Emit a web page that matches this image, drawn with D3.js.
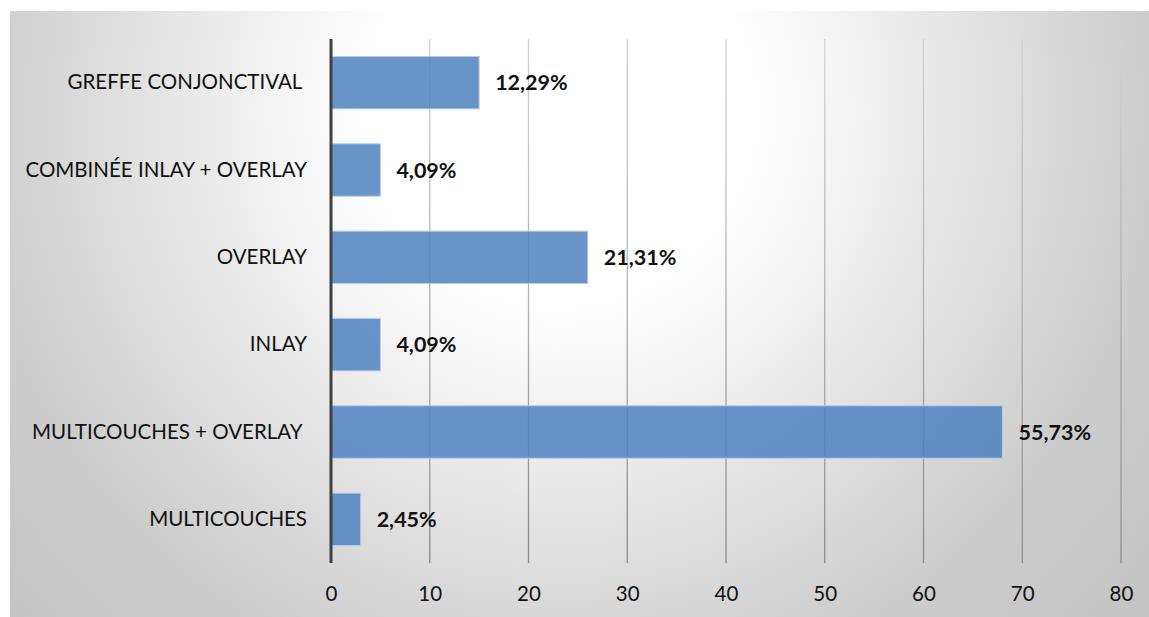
<!DOCTYPE html>
<html>
<head>
<meta charset="utf-8">
<script src="https://cdn.jsdelivr.net/npm/d3@7"></script>
<style>
  html, body { margin: 0; padding: 0; background: #ffffff; }
  svg { display: block; }
  text { font-family: Lato, "Open Sans", "Liberation Sans", sans-serif; }
</style>
</head>
<body>
<svg id="chart" width="1149" height="617"></svg>
<script>
// Techniques de greffe (effectifs), top to bottom
const categories = [
  "GREFFE CONJONCTIVAL ",
  "COMBINÉE INLAY + OVERLAY",
  "OVERLAY",
  "INLAY",
  "MULTICOUCHES + OVERLAY ",
  "MULTICOUCHES"
];
const counts = [15, 5, 26, 5, 68, 3];
const xTicks = [0, 10, 20, 30, 40, 50, 60, 70, 80];

const total = d3.sum(counts);
// Share of the total, truncated to two decimals, French decimal comma
const pctLabel = v => (Math.floor(v / total * 10000) / 100).toFixed(2).replace(".", ",") + "%";

const W = 1149, H = 617;
const svg = d3.select("#chart");
const defs = svg.append("defs");

// Soft grey radial shading of the chart area
const bg = defs.append("radialGradient")
  .attr("id", "bgGrad")
  .attr("gradientUnits", "userSpaceOnUse")
  .attr("cx", 560).attr("cy", 110).attr("r", 780);
bg.append("stop").attr("offset", 0.25).attr("stop-color", "#ffffff");
bg.append("stop").attr("offset", 0.75).attr("stop-color", "#cdcdcd");
bg.append("stop").attr("offset", 1).attr("stop-color", "#c3c3c3");

const plot = { top: 39, bottom: 563, left: 331, right: 1121 };

const gridGrad = defs.append("linearGradient")
  .attr("id", "gridGrad")
  .attr("gradientUnits", "userSpaceOnUse")
  .attr("x1", 0).attr("x2", 0).attr("y1", plot.top).attr("y2", plot.bottom);
gridGrad.append("stop").attr("offset", 0).attr("stop-color", "#d2d2d2");
gridGrad.append("stop").attr("offset", 1).attr("stop-color", "#8c8c8c");

svg.append("rect")
  .attr("x", 10).attr("y", 11)
  .attr("width", W - 10).attr("height", H - 11)
  .attr("fill", "url(#bgGrad)");

const x = d3.scaleLinear().domain([0, 80]).range([plot.left, plot.right]);
const y = d3.scaleBand().domain(categories)
  .range([plot.top, plot.bottom])
  .paddingInner(0.4).paddingOuter(0.2);

// Vertical gridlines
svg.append("g")
  .selectAll("line")
  .data(xTicks.filter(t => t > 0))
  .join("line")
  .attr("x1", d => x(d)).attr("x2", d => x(d))
  .attr("y1", plot.top).attr("y2", plot.bottom)
  .attr("stroke", "url(#gridGrad)")
  .attr("stroke-width", 1.3);

// X axis tick labels
const xAxis = d3.axisBottom(x).tickValues(xTicks).tickSize(0).tickPadding(0).tickFormat(d3.format("d"));
const gx = svg.append("g")
  .attr("transform", `translate(0,${plot.bottom})`)
  .call(xAxis);
gx.select(".domain").remove();
gx.selectAll("text")
  .attr("y", 31).attr("dy", "0.35em")
  .attr("font-size", 20.5)
  .attr("font-family", "Lato, 'Open Sans', sans-serif")
  .attr("fill", "#111");

// Bars
svg.append("g")
  .selectAll("rect")
  .data(categories)
  .join("rect")
  .attr("x", x(0))
  .attr("y", d => y(d))
  .attr("width", (d, i) => x(counts[i]) - x(0))
  .attr("height", y.bandwidth())
  .attr("fill", "#4f81bd")
  .attr("fill-opacity", 0.85)
  .attr("stroke", "#b8cde6")
  .attr("stroke-width", 1);

// Category axis line
svg.append("line")
  .attr("x1", x(0)).attr("x2", x(0))
  .attr("y1", plot.top).attr("y2", plot.bottom)
  .attr("stroke", "#404040")
  .attr("stroke-width", 3);

// Category labels
const gy = svg.append("g")
  .attr("transform", `translate(${x(0)},0)`)
  .call(d3.axisLeft(y).tickSize(0).tickPadding(24));
gy.select(".domain").remove();
gy.selectAll("text")
  .attr("font-size", 20.5)
  .attr("font-family", "Lato, 'Open Sans', sans-serif")
  .attr("fill", "#111")
  .style("white-space", "pre");

// Value labels
svg.append("g")
  .selectAll("text")
  .data(categories)
  .join("text")
  .attr("x", (d, i) => x(counts[i]) + 16)
  .attr("y", d => y(d) + y.bandwidth() / 2)
  .attr("dy", "0.35em")
  .attr("font-size", 21.5)
  .attr("font-weight", "bold")
  .attr("fill", "#111")
  .text((d, i) => pctLabel(counts[i]));
</script>
</body>
</html>
